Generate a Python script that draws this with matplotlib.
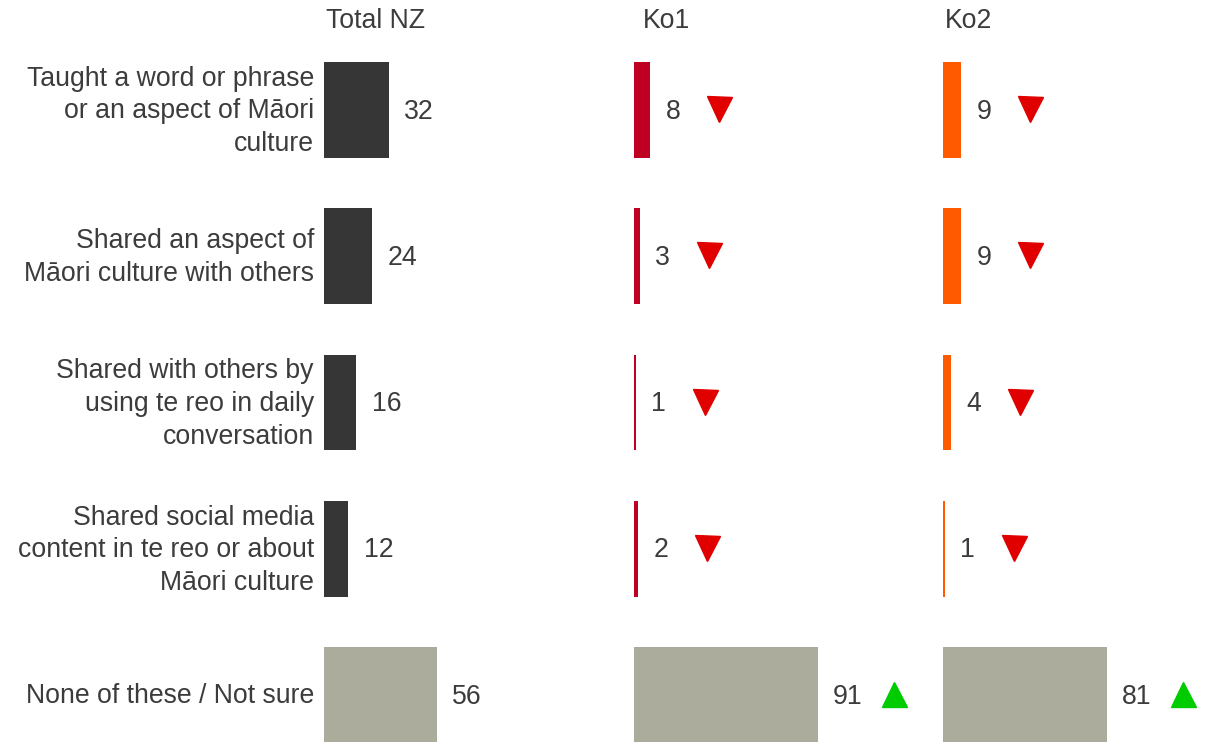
import matplotlib
matplotlib.use("Agg")
import matplotlib.pyplot as plt
from matplotlib.transforms import ScaledTranslation

plt.rcParams['font.family'] = ['Liberation Sans', 'DejaVu Sans']

categories = [
    "Taught a word or phrase\nor an aspect of Māori\nculture",
    "Shared an aspect of\nMāori culture with others",
    "Shared with others by\nusing te reo in daily\nconversation",
    "Shared social media\ncontent in te reo or about\nMāori culture",
    "None of these / Not sure",
]
groups = ["Total NZ", "Ko1", "Ko2"]
total_nz = [32, 24, 16, 12, 56]
ko1 = [8, 3, 1, 2, 91]
ko2 = [9, 9, 4, 1, 81]
# significance vs Total NZ: -1 lower, +1 higher, 0 none
ko1_sig = [-1, -1, -1, -1, 1]
ko2_sig = [-1, -1, -1, -1, 1]

series = [total_nz, ko1, ko2]
sigs = [[0] * 5, ko1_sig, ko2_sig]
bar_colors = ["#363636", "#BE0022", "#FF5A00"]
none_color = "#ABAC9C"
text_color = "#3C3C3C"

W, H = 1214, 742
fig = plt.figure(figsize=(W / 100, H / 100), dpi=100)

panel_left = [324, 634, 943]
panel_w = 202  # pixels for 100 units
header_x = [326, 643, 945]

y0_top = -0.752
y0_bot = 4.321
fs = 19.2

for g, (name, vals, sg) in enumerate(zip(groups, series, sigs)):
    ax = fig.add_axes([panel_left[g] / W, 0, panel_w / W, 1])
    ax.set_xlim(0, 100)
    ax.set_ylim(y0_bot, y0_top)
    ax.axis("off")
    colors = [bar_colors[g]] * 4 + [none_color]
    ax.barh(range(len(vals)), vals, height=0.656, color=colors, left=0)
    for i, v in enumerate(vals):
        ax.annotate(str(v), xy=(v, i), xytext=(11, -1.2), textcoords="offset points",
                    ha="left", va="center", fontsize=fs, color=text_color,
                    annotation_clip=False)
        if sg[i] != 0:
            off = 62 + 7 * len(str(v))  # pixels from bar end
            ax.plot([v], [i], marker="v" if sg[i] < 0 else "^",
                    markersize=18, color="#E00000" if sg[i] < 0 else "#00CC00",
                    linestyle="none", clip_on=False,
                    transform=ax.transData + ScaledTranslation(
                        off / 100, 0.01, fig.dpi_scale_trans))
    fig.text(header_x[g] / W, 1 - 21 / H, name, ha="left", va="center",
             fontsize=fs, color=text_color)
    if g == 0:
        for i, c in enumerate(categories):
            ax.annotate(c, xy=(0, i), xytext=(-7.2, -1), textcoords="offset points",
                        ha="right", va="center", fontsize=fs, color=text_color,
                        multialignment="right", linespacing=1.33,
                        annotation_clip=False)

fig.savefig("out.png", dpi=100, facecolor="white")
